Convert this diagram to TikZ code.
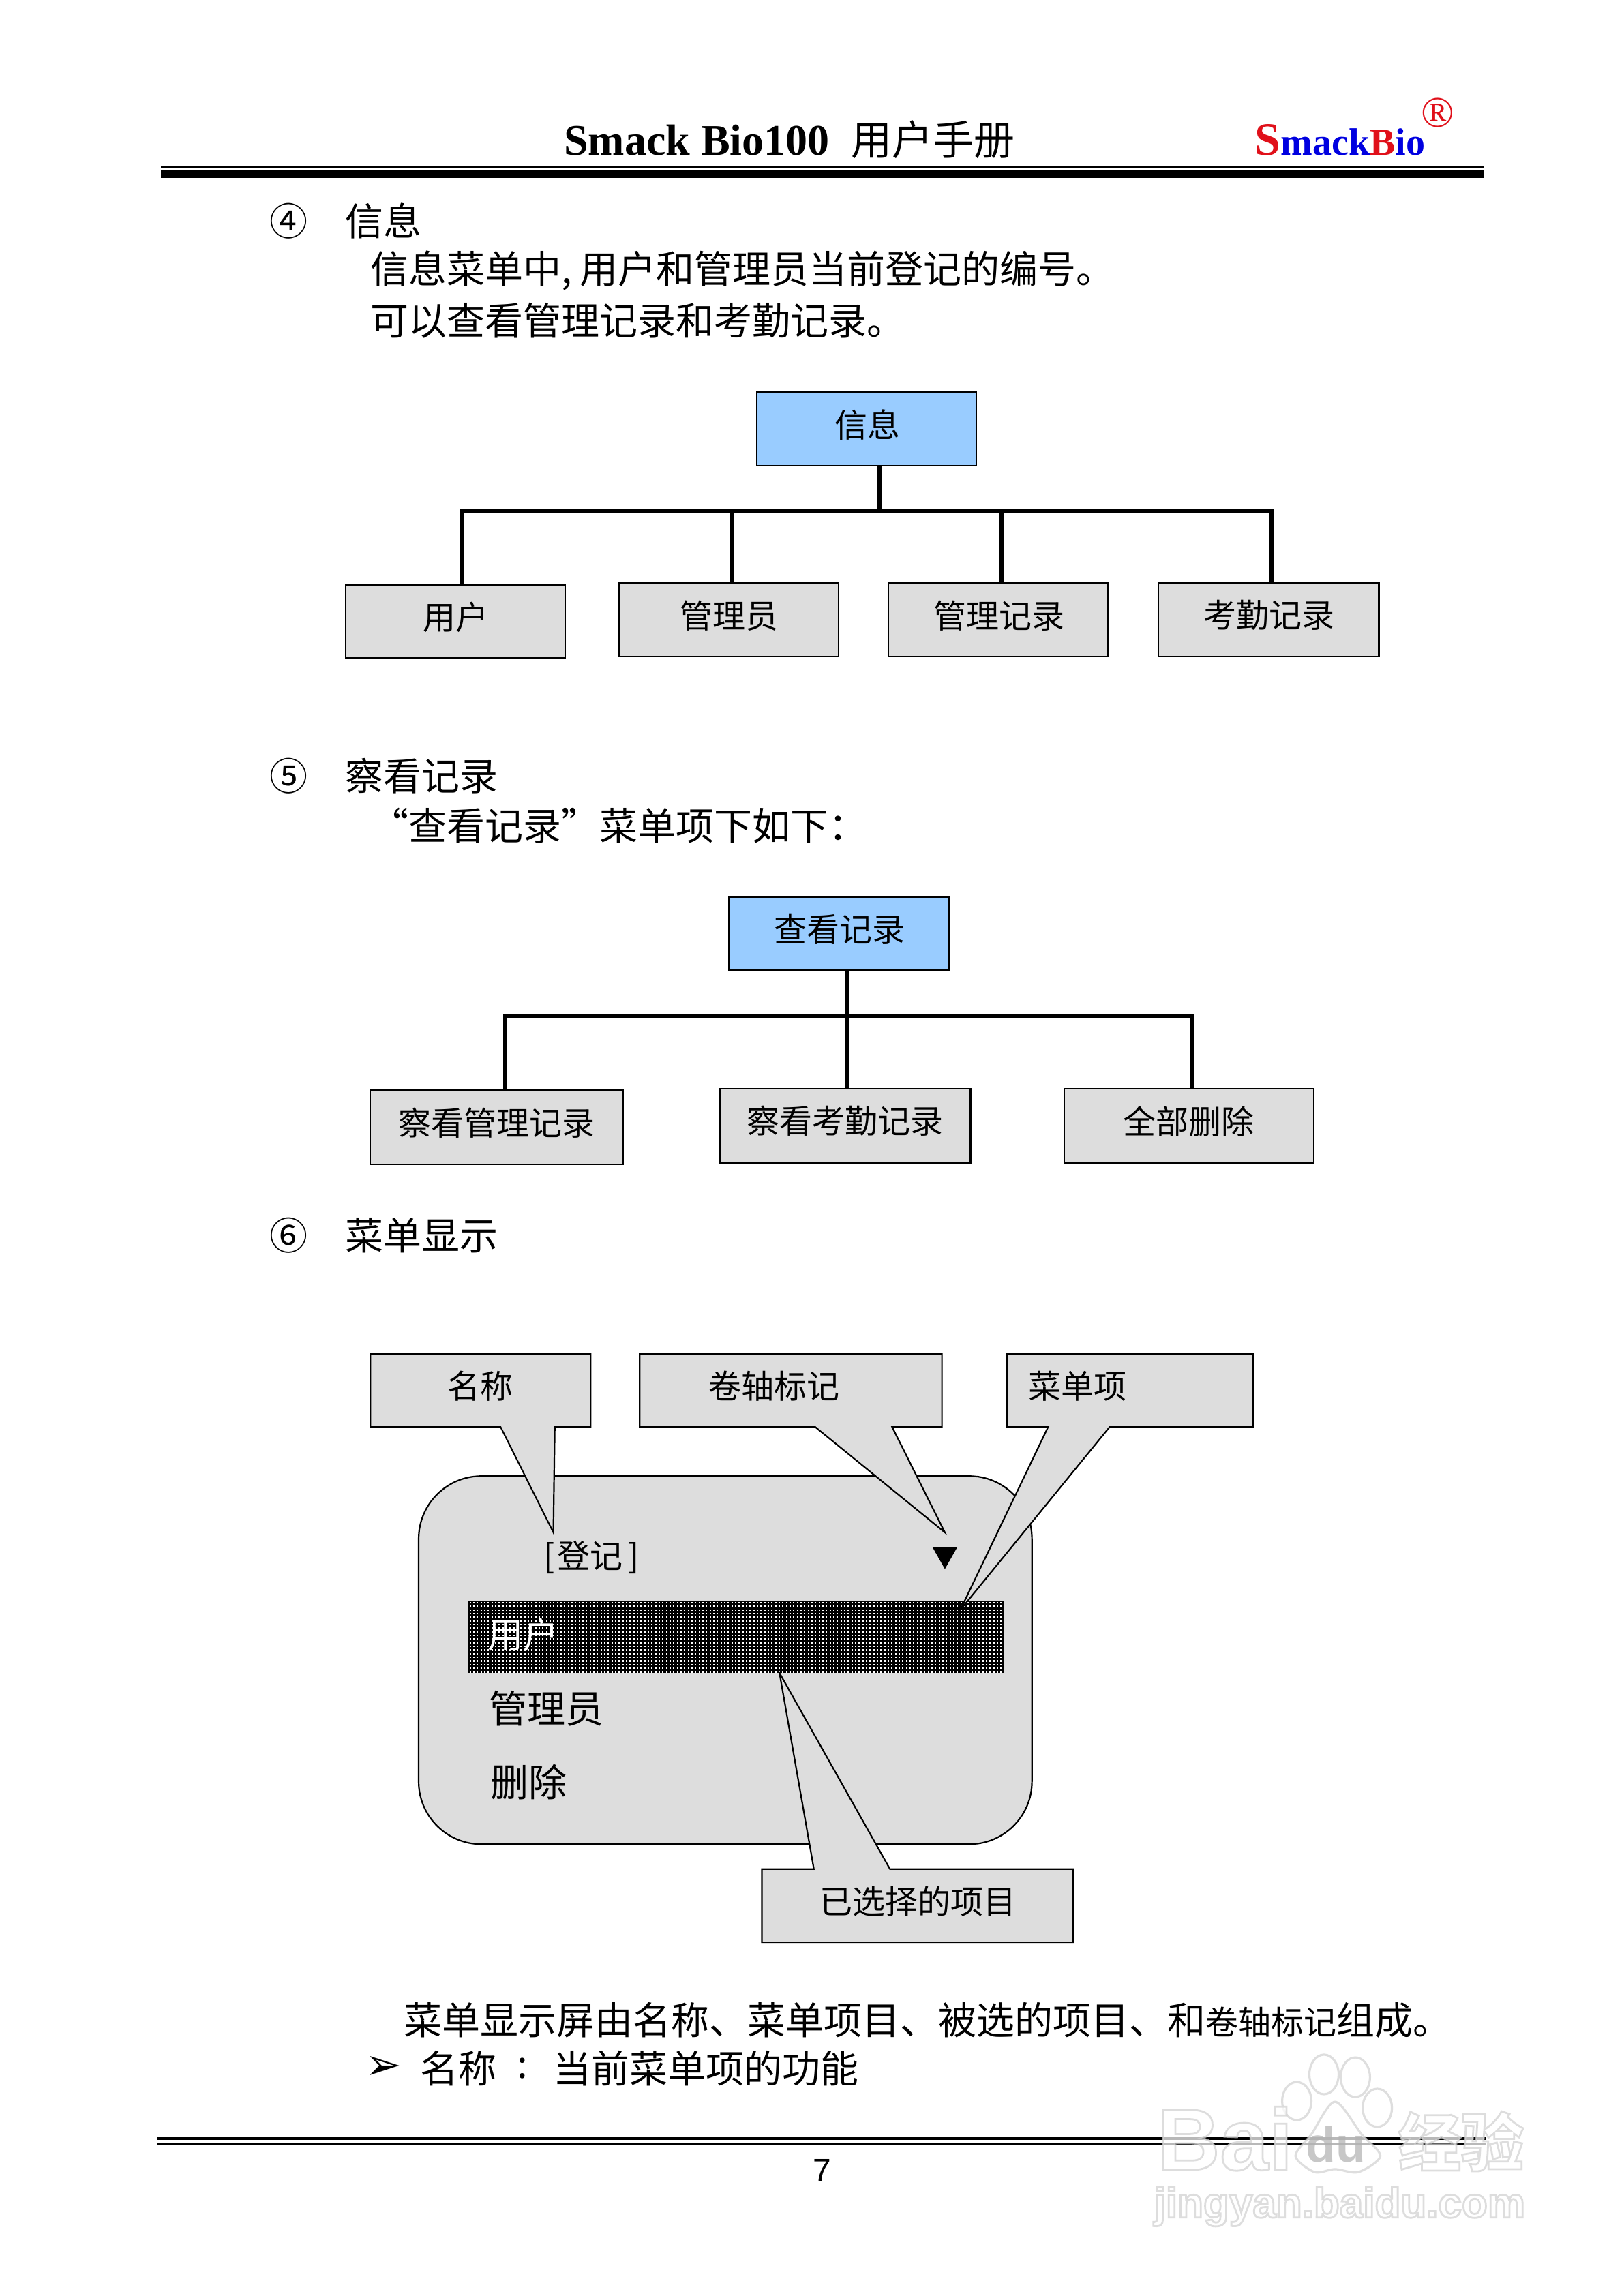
\documentclass[tikz,border=0pt]{standalone}
\usepackage{fontspec}
\setmainfont{Liberation Serif}
\newfontfamily\cjk{Noto Sans CJK SC}
\newfontfamily\djf{DejaVu Sans}
\newfontfamily\lsf{Liberation Sans}
\definecolor{boxgray}{HTML}{DDDDDD}
\definecolor{rootblue}{HTML}{99CCFF}
\definecolor{logoblue}{HTML}{0000E0}
\definecolor{logored}{HTML}{E0101A}
\definecolor{wm}{HTML}{D2D2D2}
\newcommand\sz[1]{\fontsize{#1}{#1}\selectfont}
% hollow watermark lettering: white fill, grey stroke
\newcommand\hollow[2]{\special{pdf:code 2 Tr #1 #1 #1 RG 1 1 1 rg 0.7 w}#2\special{pdf:code 0 Tr}}
\tikzset{
  x=0.53675pt,y=-0.53675pt,
  body/.style={inner sep=0,outer sep=0,anchor=west,font=\cjk\sz{14}},
  lab/.style={inner sep=0,outer sep=0,anchor=center,font=\cjk\sz{12}},
  bar/.style={line width=1.5pt,black,line cap=butt},
  graybox/.style={draw=black,line width=0.55pt,fill=boxgray,inner sep=0,outer sep=0},
  bluebox/.style={graybox,fill=rootblue},
  call/.style={draw=black,line width=0.55pt,fill=boxgray,line join=miter},
  wmline/.style={draw=wm,fill=white,line width=0.8pt},
}
% name, x1,y1,x2,y2, style
\newcommand\bx[6]{\node[#6,minimum width={(#4-#2)*0.53675pt},minimum height={(#5-#3)*0.53675pt}] (#1) at ({(#2+#4)/2},{(#3+#5)/2}) {};}
\begin{document}
\begin{tikzpicture}
\useasboundingbox (0,0) rectangle (1109,1568.7);
\fill[white] (0,0) rectangle (1109,1568.7);
% header
\node[inner sep=0,anchor=base west,font=\bfseries\sz{16}] (title) at (385,106) {Smack Bio100};
\node[inner sep=0,anchor=base west,font=\cjk\sz{15}] (titlecn) at (581,106) {用户手册};
\node[inner sep=0,anchor=base west,font=\bfseries\sz{14}] (logo) at (857,106) {\textcolor{logored}{\sz{17}S}\textcolor{logoblue}{mack}\textcolor{logored}{B}\textcolor{logoblue}{io}};
\node[inner sep=0,font=\sz{16},text=logored] (reg) at (982,77) {®};
\fill (110,113.2) rectangle (1014,114.6);
\fill (110,116.4) rectangle (1014,121.6);
% section 4
\node[body] (n4) at (184,151) {④};
\node[body] (s4) at (236,151) {信息};
\node[body] (s4a) at (253,185) {信息菜单中,\hspace{3pt}用户和管理员当前登记的编号。};
\node[body] (s4b) at (253,219) {可以查看管理记录和考勤记录。};
% chart 1
\bx{r1}{517}{268}{667}{318}{bluebox}
\bx{a1}{236}{399.5}{386}{449.5}{graybox}
\bx{a2}{423}{398.5}{573}{448.5}{graybox}
\bx{a3}{607}{398.5}{757}{448.5}{graybox}
\bx{a4}{791.5}{398.5}{942}{448.5}{graybox}
\coordinate (busA) at (601,349);
\coordinate (c1) at (315.5,349);
\coordinate (c2) at (500,349);
\coordinate (c3) at (684,349);
\coordinate (c4) at (868.5,349);
\draw[bar] (busA |- r1.south) -- (busA);
\draw[bar] ([xshift=-0.75pt]c1) -- ([xshift=0.75pt]c4);
\draw[bar] (c1) -- (c1 |- a1.north);
\draw[bar] (c2) -- (c2 |- a2.north);
\draw[bar] (c3) -- (c3 |- a3.north);
\draw[bar] (c4) -- (c4 |- a4.north);
\node[lab] (tr1) at (592.5,290) {信息};
\node[lab] (ta1) at (311.5,421.5) {用户};
\node[lab] (ta2) at (498,420.5) {管理员};
\node[lab] (ta3) at (682.5,420.5) {管理记录};
\node[lab] (ta4) at (867,420.5) {考勤记录};
% section 5
\node[body] (n5) at (184,530) {⑤};
\node[body] (s5) at (236,530) {察看记录};
\node[body] (s5a) at (253,564) {“查看记录”菜单项下如下：};
% chart 2
\bx{r2}{498}{613}{648.5}{663}{bluebox}
\bx{b1}{253}{745}{425.5}{795.5}{graybox}
\bx{b2}{492}{744}{663}{794.5}{graybox}
\bx{b3}{727}{744}{897.5}{794.5}{graybox}
\coordinate (busB) at (579,694);
\coordinate (d1) at (345,694);
\coordinate (d2) at (579,694);
\coordinate (d3) at (814,694);
\draw[bar] (busB |- r2.south) -- (busB);
\draw[bar] ([xshift=-0.75pt]d1) -- ([xshift=0.75pt]d3);
\draw[bar] (d1) -- (d1 |- b1.north);
\draw[bar] (d2) -- (d2 |- b2.north);
\draw[bar] (d3) -- (d3 |- b3.north);
\node[lab] (tr2) at (573.5,635) {查看记录};
\node[lab] (tb1) at (339.5,767) {察看管理记录};
\node[lab] (tb2) at (577.5,766) {察看考勤记录};
\node[lab] (tb3) at (812,766) {全部删除};
% section 6
\node[body] (n6) at (184,844) {⑥};
\node[body] (s6) at (236,844) {菜单显示};
% panel
\draw[call,rounded corners=23pt] (286,1008.5) rectangle (705,1260);
\fill[black] (320,1093.7) rectangle (686,1142.8);
\foreach \i in {0,...,146}{\foreach \j in {0,...,19}{
  \fill[white] ({320.7+\i*2.484},{1094.6+\j*2.484}) rectangle +(1,1);
}}
\node[inner sep=0,anchor=west,font=\cjk\sz{13},text=white] (sel) at (333,1117) {用户};
\node[body] (m2) at (334,1167.5) {管理员};
\node[body] (m3) at (335,1217.5) {删除};
\node[inner sep=0,anchor=west,font=\cjk\sz{12}] (tt) at (371,1064) {[\hspace{1pt}登记\hspace{2pt}]};
\fill (637,1057) -- (654,1057) -- (645.5,1072) -- cycle;
% callouts
\draw[call] (253,925) -- (403.5,925) -- (403.5,975) -- (379,975) -- (378,1047) -- (342,975) -- (253,975) -- cycle;
\draw[call] (437,925) -- (643.5,925) -- (643.5,975) -- (609.5,975) -- (645.5,1047) -- (557,975) -- (437,975) -- cycle;
\draw[call] (688,925) -- (856,925) -- (856,975) -- (758,975) -- (656,1100) -- (716,975) -- (688,975) -- cycle;
\draw[call] (520.5,1277) -- (556,1277) -- (532.5,1143) -- (608,1277) -- (733,1277) -- (733,1327) -- (520.5,1327) -- cycle;
\node[lab] (t1) at (328,947) {名称};
\node[lab] (t2) at (529,947) {卷轴标记};
\node[lab] (t3) at (736,947) {菜单项};
\node[lab] (t4) at (627,1299) {已选择的项目};
% bottom text
\node[body] (p1) at (276,1380) {菜单显示屏由名称、菜单项目、被选的项目、和\sz{12}卷轴标记\sz{14}组成。};
\node[inner sep=0,anchor=center,font=\djf\sz{16}] (arrow) at (262,1413) {➢};
\node[body] (p2) at (287,1413) {名称};
\node[inner sep=0,anchor=center,font=\cjk\sz{14}] (colon) at (357,1413) {:};
\node[body] (p3) at (378,1413) {当前菜单项的功能};
% footer
\fill (107.5,1460.2) rectangle (1015,1462);
\fill (107.5,1463.7) rectangle (1015,1465.7);
\node[inner sep=0,font=\lsf\sz{12}] (page) at (561.7,1483) {7};
% watermark
\begin{scope}[opacity=0.72]
\draw[wmline] (885.9,1435.5) ellipse (10 and 13);
\draw[wmline] (904.5,1417.3) ellipse (10 and 13.5);
\draw[wmline] (925.9,1419.2) ellipse (10 and 13.5);
\draw[wmline] (940.9,1440.1) ellipse (10 and 13);
\draw[wmline] plot[smooth cycle] coordinates {(912,1436) (896,1458) (885,1473) (898,1484) (912,1482) (928,1484) (943,1473) (930,1458)};
\node[inner sep=0,anchor=base west,font=\lsf\bfseries\sz{32}] (wm1) at (790,1482.5) {\hollow{0.82}{Bai}};
\node[inner sep=0,anchor=base west,font=\lsf\bfseries\sz{18},text=black!30] (wm4) at (892,1477) {du};
\node[inner sep=0,anchor=west,font=\cjk\bfseries\sz{23}] (wm2) at (955,1463) {\hollow{0.82}{经验}};
\node[inner sep=0,anchor=base west,font=\lsf\bfseries\sz{15.5}] (wm3) at (788,1515) {\hollow{0.82}{jingyan.baidu.com}};
\end{scope}
\end{tikzpicture}
\end{document}
